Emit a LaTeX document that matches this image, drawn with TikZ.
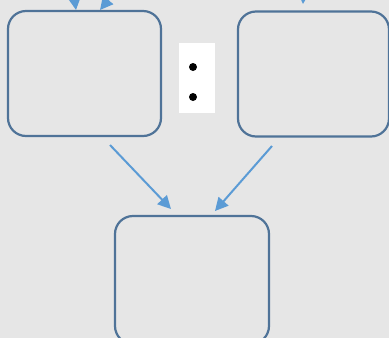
\documentclass[tikz,border=0pt]{standalone}
\usetikzlibrary{arrows.meta}
\definecolor{bg}{HTML}{E6E6E6}
\definecolor{boxline}{HTML}{4F7398}
\definecolor{arr}{HTML}{5B9BD5}
\begin{document}
\begin{tikzpicture}[x=1pt,y=-1pt,
  rbox/.style={draw=boxline,line width=2.2pt,rounded corners=18pt,minimum width=153pt,minimum height=125pt,inner sep=0pt},
  conn/.style={draw=arr,line width=2pt,-{Triangle[length=13pt,width=13pt]}}]
\fill[bg] (0,0) rectangle (389,338);
\useasboundingbox (0,0) rectangle (389,338);
\clip (0,0) rectangle (389,338);
\node[rbox] (L) at (84.5,73.5) {};
\node[rbox,minimum width=151pt] (R) at (313.5,74) {};
\node[rbox,minimum width=154pt,minimum height=128pt] (B) at (192,280) {};
\node[fill=white,minimum width=36pt,minimum height=70pt,inner sep=0pt] (W) at (197,78) {};
\node[circle,fill=black,minimum size=8pt,inner sep=0pt] (d1) at (193,67) {};
\node[circle,fill=black,minimum size=8pt,inner sep=0pt] (d2) at (193,97) {};
\coordinate (s1) at (72,-20);
\coordinate (s2) at (118,-12);
\coordinate (s3) at (304,-20);
\coordinate (t1) at (76,10);
\coordinate (t2) at (100,10);
\coordinate (t3) at (303,4);
\coordinate (a1) at (110,145);
\coordinate (a2) at (272,146);
\coordinate (b1) at (171,209);
\coordinate (b2) at (215,211);
\path[conn] (s1) -- (t1);
\path[conn] (s2) -- (t2);
\path[conn] (s3) -- (t3);
\path[conn] (a1) -- (b1);
\path[conn] (a2) -- (b2);
\end{tikzpicture}
\end{document}
